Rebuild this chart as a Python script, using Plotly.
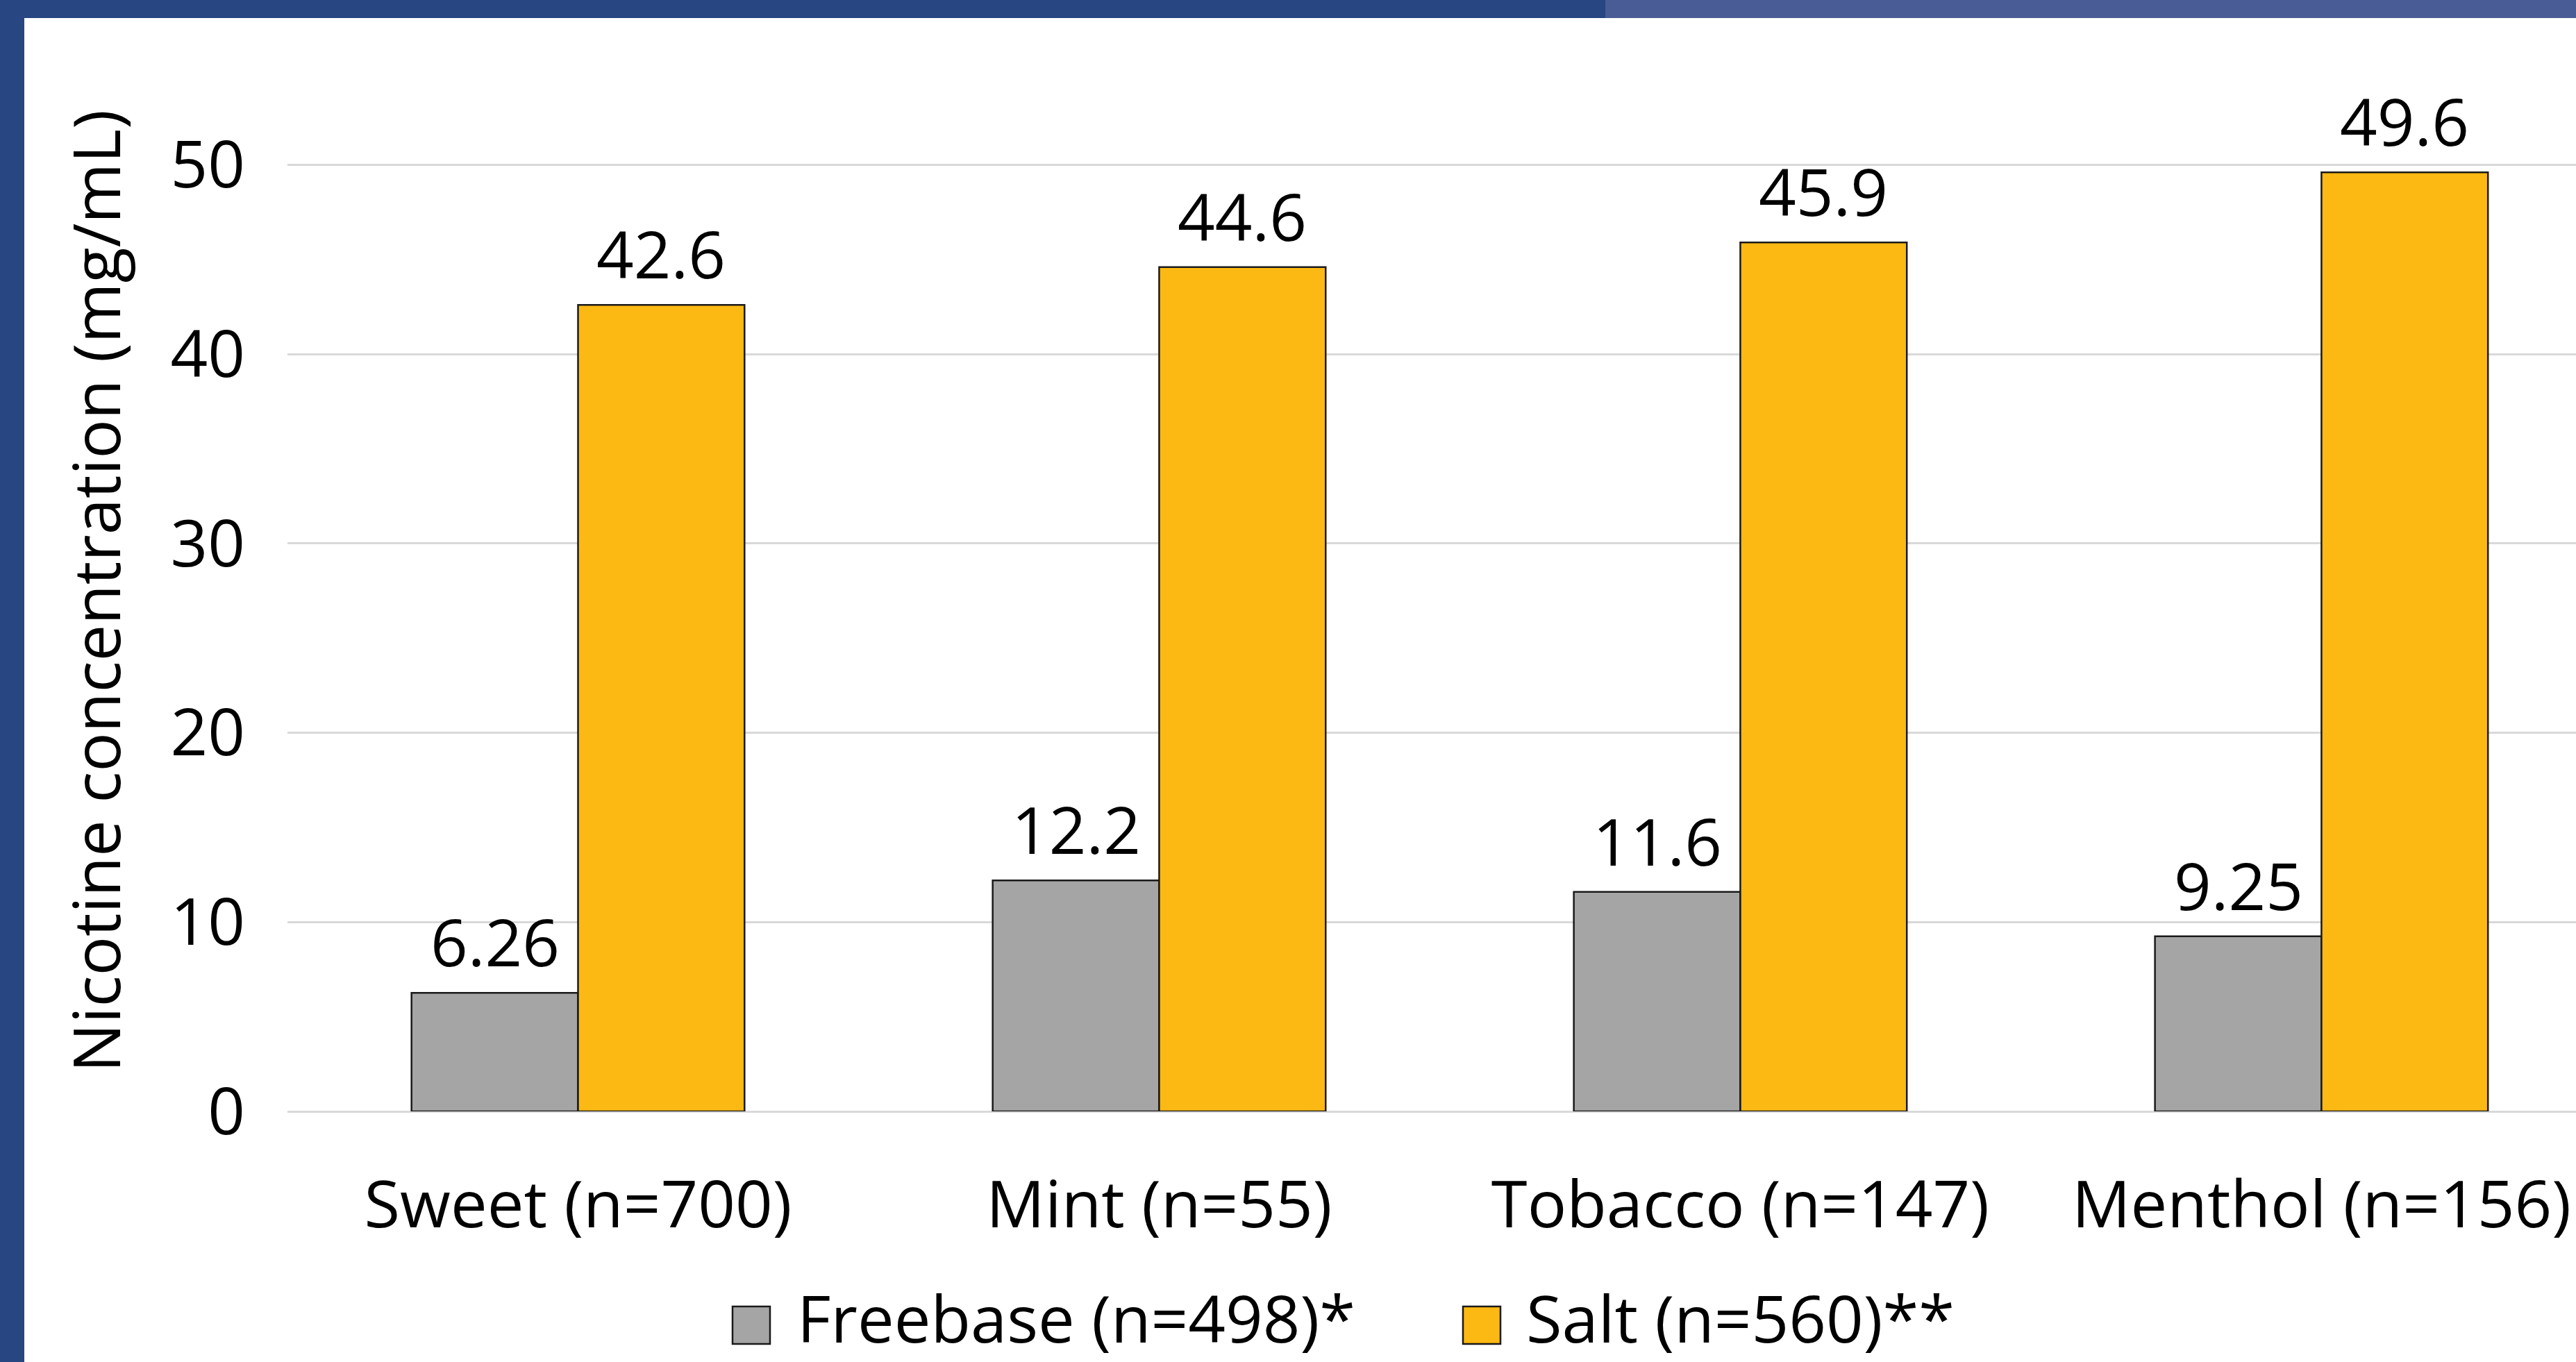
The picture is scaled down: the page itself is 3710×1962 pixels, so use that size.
import plotly.graph_objects as go

categories = ["Sweet (n=700)", "Mint (n=55)", "Tobacco (n=147)", "Menthol (n=156)"]
freebase = [6.26, 12.2, 11.6, 9.25]
salt = [42.6, 44.6, 45.9, 49.6]
series_names = ["Freebase (n=498)*", "Salt (n=560)**"]
y_ticks = [0, 10, 20, 30, 40, 50]
y_title = "Nicotine concentration (mg/mL)"

W, H = 3710, 1962
L, R, T, B = 414, 0, 101, 361
PW, PH = W - L - R, H - T - B
FONT = "Open Sans"
FS = 94
GREY = "#A5A5A5"
GOLD = "#FDB913"
DARK_BLUE = "#274682"
LIGHT_BLUE = "#4A5C96"
BARGAP = 0.427


def px(x):
    return (x - L) / PW


def py(y):
    return (H - B - y) / PH


fig = go.Figure()
for name, vals, color in [(series_names[0], freebase, GREY), (series_names[1], salt, GOLD)]:
    fig.add_trace(go.Bar(
        x=categories, y=vals, name=name,
        marker=dict(color=color, line=dict(color="#1a1a1a", width=2.5)),
        showlegend=False,
    ))

annotations = []
# data labels above each bar (positioned in data coordinates)
half = (1 - BARGAP) / 4
for s, vals in enumerate([freebase, salt]):
    off = -half if s == 0 else half
    for i, v in enumerate(vals):
        annotations.append(dict(text=f"{v:g}", xref="x", yref="y", x=i + off, y=v,
                                xanchor="center", yanchor="bottom", yshift=8, showarrow=False,
                                font=dict(family=FONT, size=FS, color="black")))

shapes = [
    dict(type="rect", xref="paper", yref="paper", x0=px(0), x1=px(W), y0=py(26), y1=py(-5),
         fillcolor=DARK_BLUE, line=dict(width=0), layer="above"),
    dict(type="rect", xref="paper", yref="paper", x0=px(2312), x1=px(W), y0=py(26), y1=py(-5),
         fillcolor=LIGHT_BLUE, line=dict(width=0), layer="above"),
    dict(type="rect", xref="paper", yref="paper", x0=px(-5), x1=px(35), y0=py(H + 5), y1=py(-5),
         fillcolor=DARK_BLUE, line=dict(width=0), layer="above"),
]
annotations.append(
    dict(text=y_title, xref="paper", yref="paper", x=px(137), y=py(852), textangle=-90,
         showarrow=False, xanchor="center", yanchor="middle",
         font=dict(family=FONT, size=FS, color="black")))
# manual legend (large square swatches)
legend_items = [(series_names[0], GREY, 1055, 1146), (series_names[1], GOLD, 2107, 2196)]
for name, color, sx, tx in legend_items:
    shapes.append(dict(type="rect", xref="paper", yref="paper", x0=px(sx), x1=px(sx + 54),
                       y0=py(1936), y1=py(1882), fillcolor=color,
                       line=dict(color="#1a1a1a", width=2.5)))
    annotations.append(dict(text=name, xref="paper", yref="paper", x=px(tx), y=py(1898),
                            xanchor="left", yanchor="middle", showarrow=False,
                            font=dict(family=FONT, size=FS, color="black")))

fig.update_layout(
    width=W, height=H, autosize=False,
    margin=dict(l=L, r=R, t=T, b=B, pad=0),
    paper_bgcolor="white", plot_bgcolor="white",
    barmode="group", bargap=BARGAP, bargroupgap=0,
    font=dict(family=FONT, size=FS, color="black"),
    shapes=shapes, annotations=annotations,
    xaxis=dict(range=[-0.5, 3.438], showgrid=False, showline=False, zeroline=False,
               ticks="", ticklabelstandoff=72,
               tickfont=dict(family=FONT, size=FS, color="black")),
    yaxis=dict(range=[0, 55], tickvals=y_ticks, showgrid=True, gridcolor="#D9D9D9", gridwidth=3,
               zeroline=True, zerolinecolor="#D9D9D9", zerolinewidth=3, showline=False,
               ticks="", ticklabelstandoff=60,
               tickfont=dict(family=FONT, size=FS, color="black")),
)

fig.write_html("out.html")
